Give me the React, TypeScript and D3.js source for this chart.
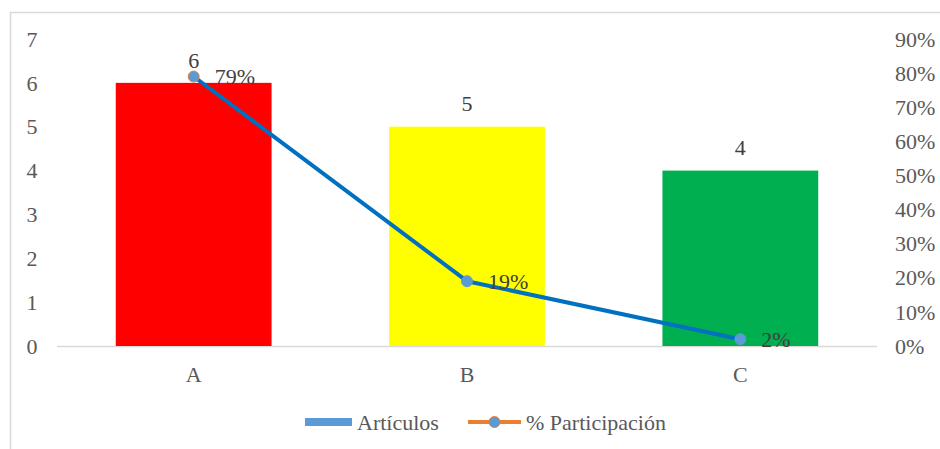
import React from "react";
import * as d3 from "d3";

const categories = ["A", "B", "C"];
const articulos = [6, 5, 4];
const participacion = [0.79, 0.19, 0.02];
const participacionLabels = ["79%", "19%", "2%"];
const barColors = ["#FF0000", "#FFFF00", "#00B050"];
const leftTicks = [0, 1, 2, 3, 4, 5, 6, 7];
const rightTicks = [0, 0.1, 0.2, 0.3, 0.4, 0.5, 0.6, 0.7, 0.8, 0.9];

const W = 940, H = 449;
const plot = { left: 57, right: 877, top: 39, bottom: 346 };
const font = "'Liberation Serif', 'Times New Roman', serif";
const textColor = "#595959";
const fs = 22;

export default function App() {
  const x = d3.scaleBand<string>().domain(categories).range([plot.left, plot.right]).paddingInner(0.43).paddingOuter(0.215);
  const yL = d3.scaleLinear().domain([0, 7]).range([plot.bottom, plot.top]);
  const yR = d3.scaleLinear().domain([0, 0.9]).range([plot.bottom, plot.top]);
  const cx = (c: string) => (x(c) as number) + x.bandwidth() / 2;
  const line = d3.line<number>().x((_, i) => cx(categories[i])).y((d) => yR(d));

  return (
    <svg width={W} height={H} style={{ position: "absolute", left: 0, top: 0 }} fontFamily={font}>
      <rect x={0} y={0} width={W} height={H} fill="#fff" />
      <path d={`M10.5,${H} V12.5 H${W}`} fill="none" stroke="#D9D9D9" strokeWidth={1.5} />
      <line x1={plot.left} x2={plot.right} y1={plot.bottom + 0.5} y2={plot.bottom + 0.5} stroke="#D9D9D9" strokeWidth={1.5} />
      {leftTicks.map((t) => (
        <text key={t} x={32} y={yL(t)} dy="0.35em" textAnchor="middle" fontSize={fs} fill={textColor}>{t}</text>
      ))}
      {rightTicks.map((t) => (
        <text key={t} x={895} y={yR(t)} dy="0.35em" textAnchor="start" fontSize={fs} fill={textColor}>{`${Math.round(t * 100)}%`}</text>
      ))}
      {categories.map((c, i) => (
        <g key={c}>
          <rect x={x(c)} y={yL(articulos[i])} width={x.bandwidth()} height={plot.bottom - yL(articulos[i])} fill={barColors[i]} />
          <text x={cx(c)} y={yL(articulos[i]) - 23} dy="0.35em" textAnchor="middle" fontSize={fs} fill="#404040">{articulos[i]}</text>
          <text x={cx(c)} y={374} dy="0.35em" textAnchor="middle" fontSize={fs} fill={textColor}>{c}</text>
        </g>
      ))}
      <path d={line(participacion) as string} fill="none" stroke="#0070C0" strokeWidth={4} strokeLinejoin="round" />
      {participacion.map((p, i) => (
        <g key={i}>
          <circle cx={cx(categories[i])} cy={yR(p)} r={5.5} fill="#5B9BD5" stroke={i === 0 ? "#ED7D31" : "#5B9BD5"} strokeWidth={1} />
          <text x={cx(categories[i]) + 21} y={yR(p)} dy="0.35em" textAnchor="start" fontSize={fs} fill="#404040">{participacionLabels[i]}</text>
        </g>
      ))}
      <g>
        <rect x={305} y={418} width={47} height={8} fill="#5B9BD5" />
        <text x={357} y={422} dy="0.35em" fontSize={fs} fill={textColor}>Artículos</text>
        <line x1={468} x2={521} y1={422} y2={422} stroke="#ED7D31" strokeWidth={4} />
        <circle cx={494.5} cy={422} r={5.5} fill="#5B9BD5" stroke="#ED7D31" strokeWidth={1} />
        <text x={526} y={422} dy="0.35em" fontSize={fs} fill={textColor}>% Participación</text>
      </g>
    </svg>
  );
}
